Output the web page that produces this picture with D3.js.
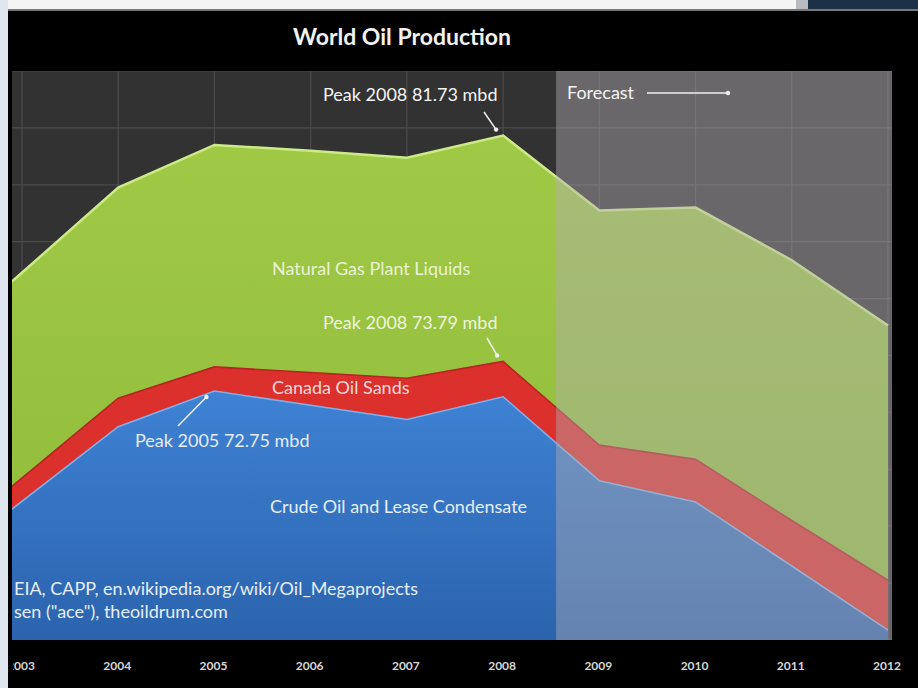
<!DOCTYPE html>
<html>
<head>
<meta charset="utf-8">
<script src="https://cdn.jsdelivr.net/npm/d3@7"></script>
<style>
  html, body { margin: 0; padding: 0; background: #000; }
  svg { display: block; font-family: Lato, "Open Sans", sans-serif; }
</style>
</head>
<body>
<div id="chart"></div>
<script>
// Data (million barrels per day, stacked)
const years = [2003, 2004, 2005, 2006, 2007, 2008, 2009, 2010, 2011, 2012];
const crude = [68.6, 71.5, 72.75, 72.25, 71.75, 72.55, 69.6, 68.85, 66.6, 64.35];
const oilSands = [0.8, 1.0, 0.85, 1.15, 1.45, 1.24, 1.25, 1.5, 1.6, 1.75];
const ngl = [7.2, 7.4, 7.8, 7.8, 7.75, 7.94, 8.25, 8.85, 9.15, 8.95];
const yTicks = [64, 66, 68, 70, 72, 74, 76, 78, 80, 82, 84];
const forecastFrom = 2008.55;

const width = 918;
const height = 688;

const svg = d3.select("#chart").append("svg")
    .attr("width", width)
    .attr("height", height);

// scales
const x = d3.scaleLinear().domain([2003, 2012]).range([22, 888]);
const y = d3.scaleLinear().domain([64, 84]).range([640, 71]);
const plot = { left: 12, right: 892, top: 71, bottom: 640 };

// photo frame bits (screen around the slide)
svg.append("rect").attr("width", width).attr("height", height).attr("fill", "#000");
svg.append("rect").attr("x", 0).attr("y", 0).attr("width", 796).attr("height", 9).attr("fill", "#f4f4f4");
svg.append("rect").attr("x", 796).attr("y", 0).attr("width", 12).attr("height", 9).attr("fill", "#b8bcc0");
svg.append("rect").attr("x", 808).attr("y", 0).attr("width", 110).attr("height", 9).attr("fill", "#1d3146");
svg.append("rect").attr("x", 0).attr("y", 9).attr("width", 918).attr("height", 2).attr("fill", "#777");

const defs = svg.append("defs");
defs.append("clipPath").attr("id", "plot-clip")
  .append("rect")
    .attr("x", plot.left).attr("y", plot.top)
    .attr("width", plot.right - plot.left).attr("height", plot.bottom - plot.top);
defs.append("clipPath").attr("id", "photo-clip")
  .append("rect")
    .attr("x", 13).attr("y", 0)
    .attr("width", width).attr("height", height);

const blueGrad = defs.append("linearGradient").attr("id", "blue-grad")
    .attr("gradientUnits", "userSpaceOnUse")
    .attr("x1", 0).attr("y1", 390).attr("x2", 0).attr("y2", 640);
blueGrad.append("stop").attr("offset", "0%").attr("stop-color", "#3f82d4");
blueGrad.append("stop").attr("offset", "100%").attr("stop-color", "#2b63ad");

const greenGrad = defs.append("linearGradient").attr("id", "green-grad")
    .attr("gradientUnits", "userSpaceOnUse")
    .attr("x1", 0).attr("y1", 130).attr("x2", 0).attr("y2", 500);
greenGrad.append("stop").attr("offset", "0%").attr("stop-color", "#a0c946");
greenGrad.append("stop").attr("offset", "100%").attr("stop-color", "#93bf3d");

const g = svg.append("g").attr("clip-path", "url(#plot-clip)");

// plot background
g.append("rect")
    .attr("x", plot.left).attr("y", plot.top)
    .attr("width", plot.right - plot.left).attr("height", plot.bottom - plot.top)
    .attr("fill", "#333233");

// gridlines
g.selectAll("line.h").data(yTicks).enter().append("line")
    .attr("x1", plot.left).attr("x2", plot.right)
    .attr("y1", d => y(d)).attr("y2", d => y(d))
    .attr("stroke", "#4c4b4c").attr("stroke-width", 1.2);
g.selectAll("line.v").data(years).enter().append("line")
    .attr("x1", d => x(d)).attr("x2", d => x(d))
    .attr("y1", plot.top).attr("y2", plot.bottom)
    .attr("stroke", "#4c4b4c").attr("stroke-width", 1.2);

// stacked areas
const rows = years.map((yr, i) => ({ year: yr, crude: crude[i], sands: oilSands[i], ngl: ngl[i] }));
const keys = ["crude", "sands", "ngl"];
const stack = d3.stack().keys(keys)(rows);
const fills = { crude: "url(#blue-grad)", sands: "#dc302d", ngl: "url(#green-grad)" };
const edges = { crude: "#7fb0ea", sands: "#b52523", ngl: "#cdea88" };

// the slide's plot runs on past the photo's left edge, so the first point is pinned to it
const px = (d, i) => i === 0 ? plot.left : x(d.data.year);
const area = d3.area()
    .x(px)
    .y0(d => y(d[0]))
    .y1(d => y(d[1]));
const topLine = d3.line()
    .x(px)
    .y(d => y(d[1]));

g.selectAll("path.layer").data(stack).enter().append("path")
    .attr("class", "layer")
    .attr("d", area)
    .attr("fill", d => fills[d.key]);

g.selectAll("path.edge").data(stack).enter().append("path")
    .attr("d", d => topLine(d))
    .attr("fill", "none")
    .attr("stroke", d => edges[d.key])
    .attr("stroke-width", d => d.key === "ngl" ? 2.5 : 1.6);

// forecast overlay
g.append("rect")
    .attr("x", x(forecastFrom)).attr("y", plot.top)
    .attr("width", plot.right - x(forecastFrom)).attr("height", plot.bottom - plot.top)
    .attr("fill", "#b2adb3").attr("opacity", 0.43);

// title
svg.append("text")
    .attr("x", 402).attr("y", 45)
    .attr("text-anchor", "middle")
    .attr("fill", "#f2f2f2")
    .attr("font-size", 23).attr("font-weight", "bold")
    .text("World Oil Production");

// x axis labels (first one is cut by the photo edge)
svg.append("g").attr("clip-path", "url(#photo-clip)")
  .selectAll("text.year").data(years).enter().append("text")
    .attr("x", d => x(d) - 1)
    .attr("y", 670)
    .attr("text-anchor", "middle")
    .attr("fill", "#d6d6d6")
    .attr("font-size", 12).attr("font-weight", "bold")
    .text(d => d);

// annotations
const ann = svg.append("g").attr("fill", "#f4f4f4").attr("font-size", 18);
const arrow = (x1, y1, x2, y2) => {
    svg.append("line")
        .attr("x1", x1).attr("y1", y1).attr("x2", x2).attr("y2", y2)
        .attr("stroke", "#f0f0f0").attr("stroke-width", 1.5);
    svg.append("circle").attr("cx", x2).attr("cy", y2).attr("r", 2.2).attr("fill", "#f0f0f0");
};

ann.append("text").attr("x", 323).attr("y", 101).text("Peak 2008 81.73 mbd");
arrow(484, 112, x(2008) - 7, y(crude[5] + oilSands[5] + ngl[5]) - 6);

ann.append("text").attr("x", 567).attr("y", 99).text("Forecast");
arrow(647, 93, 728, 93);

ann.append("text").attr("x", 272).attr("y", 275).attr("fill", "#e9f2d6").text("Natural Gas Plant Liquids");

ann.append("text").attr("x", 323).attr("y", 329).attr("fill", "#edf5dd").text("Peak 2008 73.79 mbd");
arrow(487, 338, x(2008) - 6, y(crude[5] + oilSands[5]) - 6);

ann.append("text").attr("x", 272).attr("y", 394).attr("fill", "#f6d8d8").text("Canada Oil Sands");

ann.append("text").attr("x", 135).attr("y", 447).attr("fill", "#e4ecf8").text("Peak 2005 72.75 mbd");
arrow(178, 426, x(2005) - 8, y(crude[2]) + 6);

ann.append("text").attr("x", 270).attr("y", 513).attr("fill", "#e6eef9").text("Crude Oil and Lease Condensate");

ann.append("text").attr("x", 14).attr("y", 595).attr("fill", "#e6eef9").text("EIA, CAPP, en.wikipedia.org/wiki/Oil_Megaprojects");
ann.append("text").attr("x", 14).attr("y", 618).attr("fill", "#e6eef9").text("sen (\"ace\"), theoildrum.com");

// left edge of the photo (other window)
svg.append("rect").attr("x", 0).attr("y", 0).attr("width", 8).attr("height", height).attr("fill", "#dfe6ee");
svg.append("rect").attr("x", 8).attr("y", 11).attr("width", 4).attr("height", height).attr("fill", "#000");
</script>
</body>
</html>
